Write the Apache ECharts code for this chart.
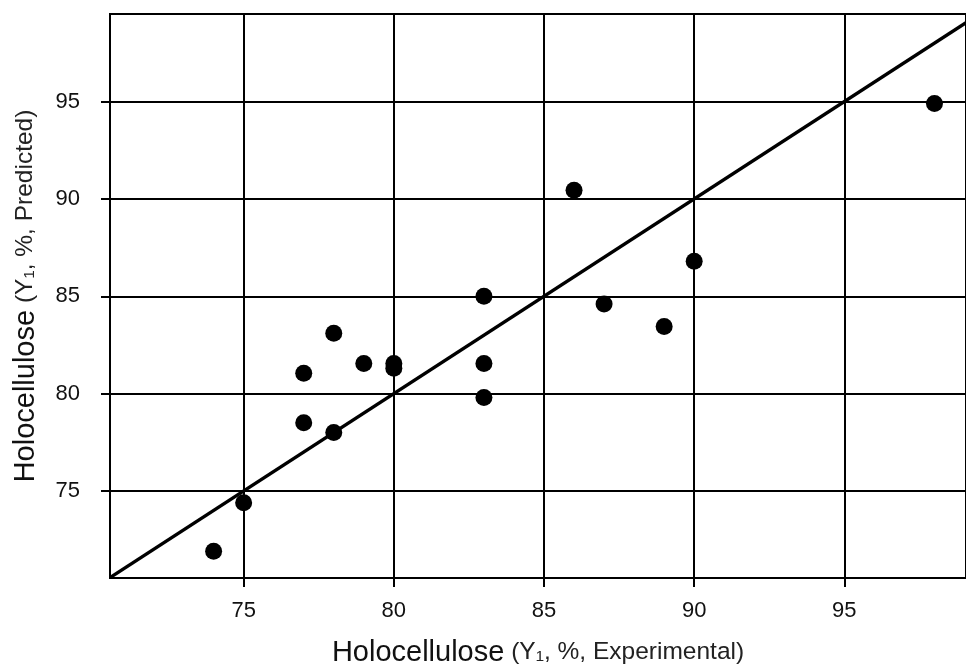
<!DOCTYPE html>
<html>
<head>
<meta charset="utf-8">
<script src="https://cdn.jsdelivr.net/npm/echarts@6/dist/echarts.min.js"></script>
<style>
  html, body { margin: 0; padding: 0; background: #fff; }
  #chart { width: 966px; height: 667px; }
</style>
</head>
<body>
<div id="chart"></div>
<script>
// experimental vs predicted holocellulose
var experimental = [74, 75, 77, 77, 78, 78, 79, 80, 80, 83, 83, 83, 86, 87, 89, 90, 98];
var predicted = [71.9, 74.4, 81.05, 78.5, 83.1, 78.0, 81.55, 81.55, 81.3, 85.0, 81.55, 79.8, 90.45, 84.6, 83.45, 86.8, 94.9];
var tickValues = [75, 80, 85, 90, 95];
var xRange = [70.55, 99.05];
var yRange = [70.53, 99.5];
var identityLine = [[70.55, 70.55], [99.05, 99.05]];

var points = experimental.map(function (x, i) { return [x, predicted[i]]; });

var FONT = '"Liberation Sans", Arial, sans-serif';
var chart = echarts.init(document.getElementById('chart'));

function axis(range, name, gap) {
    return {
        type: 'value',
        min: range[0],
        max: range[1],
        name: name,
        nameLocation: 'middle',
        nameGap: gap,
        nameTextStyle: {
            rich: {
                a: { fontFamily: FONT, fontSize: 29, color: '#111' },
                b: { fontFamily: FONT, fontSize: 24.5, color: '#222' }
            }
        },
        axisLine: { show: false },
        axisTick: { show: true, length: 9, customValues: tickValues, lineStyle: { color: '#000', width: 2 } },
        axisLabel: { customValues: tickValues, fontFamily: FONT, fontSize: 22, color: '#111' },
        splitLine: { show: true, lineStyle: { color: '#000', width: 2 } }
    };
}

var xAxis = axis(xRange, '{a|Holocellulose}{b| (Y\u2081, %, Experimental)}', 60);
xAxis.axisLabel.margin = 22;
var yAxis = axis(yRange, '{a|Holocellulose}{b| (Y\u2081, %, Predicted)}', 70);
yAxis.axisLabel.margin = 30;

chart.setOption({
    backgroundColor: '#fff',
    animation: false,
    grid: {
        left: 110, right: 0, top: 14, bottom: 89,
        outerBoundsMode: 'none',
        containLabel: false,
        show: true, borderColor: '#000', borderWidth: 2
    },
    xAxis: xAxis,
    yAxis: yAxis,
    series: [
        {
            type: 'line',
            data: identityLine,
            symbol: 'none',
            silent: true,
            lineStyle: { color: '#000', width: 3.5 }
        },
        {
            type: 'scatter',
            data: points,
            symbolSize: 17,
            itemStyle: { color: '#000', opacity: 1 }
        }
    ]
});
</script>
</body>
</html>
